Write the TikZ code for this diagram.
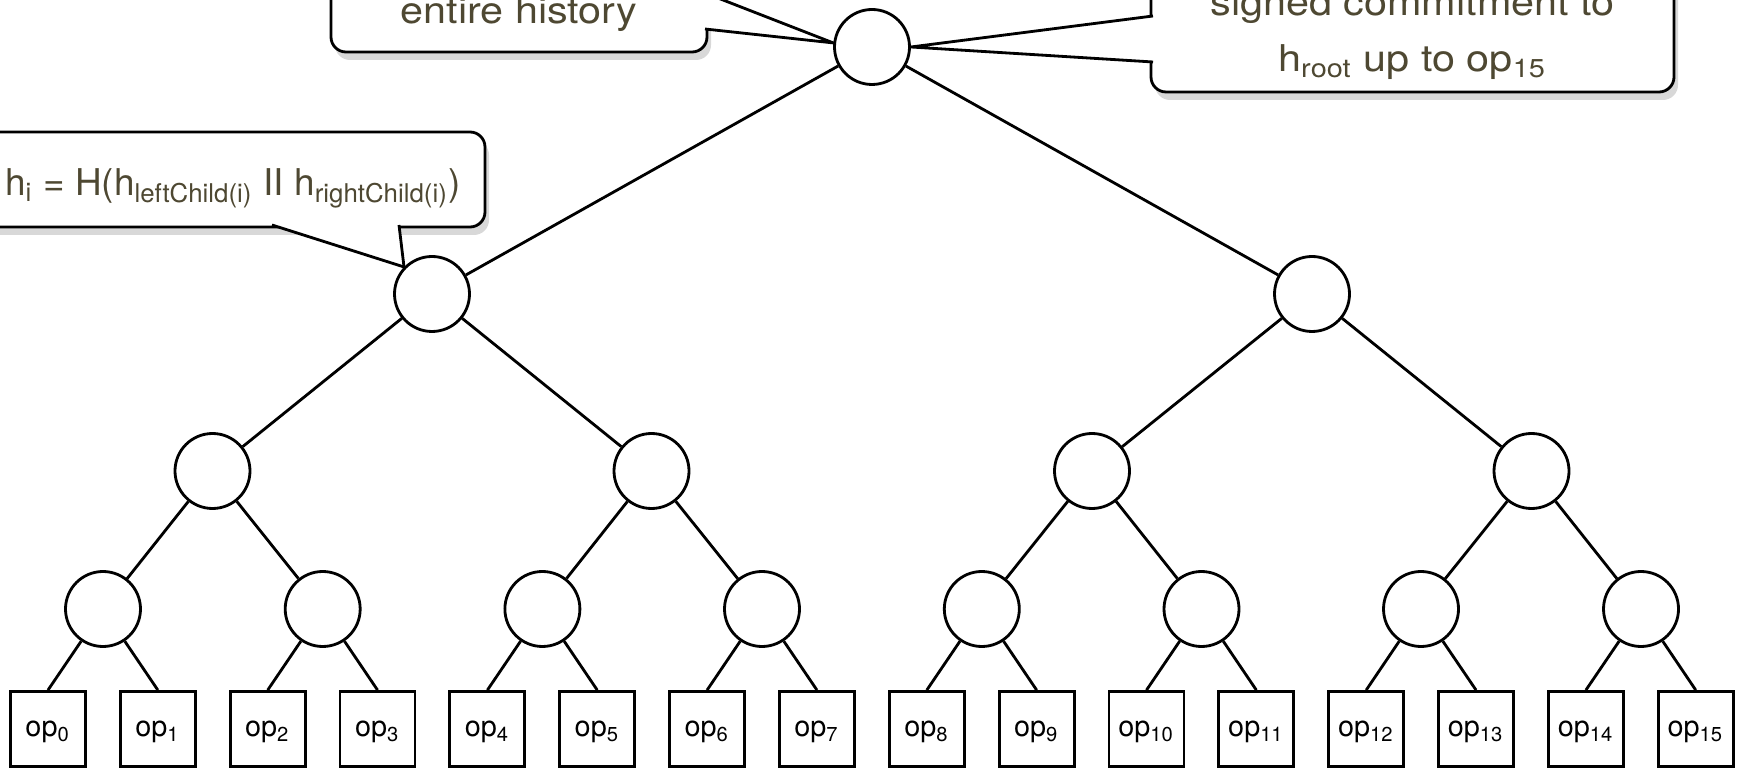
\documentclass[tikz,border=0pt]{standalone}
\usepackage{fontspec}
\setmainfont{TeX Gyre Heros}[FakeStretch=1.12]
\newfontfamily\plainfont{TeX Gyre Heros}
\usetikzlibrary{positioning}
\usetikzlibrary{shadows}
\definecolor{notetext}{RGB}{78,72,50}
\begin{document}
\begin{tikzpicture}[x=0.1mm,y=-0.1mm,line width=0.8pt,node distance=10.985mm,
  every node/.style={inner sep=0pt},
  hash/.style={draw,circle,fill=white,minimum size=7.5mm},
  op/.style={draw,rectangle,fill=white,minimum width=7.5mm,minimum height=7.5mm,text height=2mm,text depth=0.4mm,
    font=\plainfont\fontsize{8.2}{10}\selectfont},
  note/.style={draw,rounded corners=1.5mm,fill=white,text=notetext,font=\fontsize{10.5}{15.9}\selectfont,
    drop shadow={opacity=0.3,shadow xshift=0.4mm,shadow yshift=-0.8mm}},
  tail/.style={draw,fill=white,line join=round}]
\path[use as bounding box,fill=white] (0,0) rectangle (1742,768);
% hash nodes, root first
  \node[hash] (1) at (872,47) {};
  \node[hash] (2) at (432,294) {};
  \node[hash] (3) at (1312,294) {};
  \node[hash] (4) at (212.5,471) {};
  \node[hash] (5) at (651.5,471) {};
  \node[hash] (6) at (1092,471) {};
  \node[hash] (7) at (1531.5,471) {};
  \node[hash] (8) at (103,609) {};
  \node[hash] (9) at (322.7,609) {};
  \node[hash] (10) at (542.4,609) {};
  \node[hash] (11) at (762,609) {};
  \node[hash] (12) at (981.8,609) {};
  \node[hash] (13) at (1201.5,609) {};
  \node[hash] (14) at (1421,609) {};
  \node[hash] (15) at (1641,609) {};
% operations
  \node[op] (op0) at (48,729) {op\textsubscript{0}};
  \node[op,right of=op0] (op1) {op\textsubscript{1}};
  \node[op,right of=op1] (op2) {op\textsubscript{2}};
  \node[op,right of=op2] (op3) {op\textsubscript{3}};
  \node[op,right of=op3] (op4) {op\textsubscript{4}};
  \node[op,right of=op4] (op5) {op\textsubscript{5}};
  \node[op,right of=op5] (op6) {op\textsubscript{6}};
  \node[op,right of=op6] (op7) {op\textsubscript{7}};
  \node[op,right of=op7] (op8) {op\textsubscript{8}};
  \node[op,right of=op8] (op9) {op\textsubscript{9}};
  \node[op,right of=op9] (op10) {op\textsubscript{10}};
  \node[op,right of=op10] (op11) {op\textsubscript{11}};
  \node[op,right of=op11] (op12) {op\textsubscript{12}};
  \node[op,right of=op12] (op13) {op\textsubscript{13}};
  \node[op,right of=op13] (op14) {op\textsubscript{14}};
  \node[op,right of=op14] (op15) {op\textsubscript{15}};
  \draw (1)--(2); \draw (1)--(3);
  \draw (2)--(4); \draw (2)--(5); \draw (3)--(6); \draw (3)--(7);
  \draw (4)--(8); \draw (4)--(9); \draw (5)--(10); \draw (5)--(11);
  \draw (6)--(12); \draw (6)--(13); \draw (7)--(14); \draw (7)--(15);
  \draw (8)--(op0.north); \draw (8)--(op1.north);
  \draw (9)--(op2.north); \draw (9)--(op3.north);
  \draw (10)--(op4.north); \draw (10)--(op5.north);
  \draw (11)--(op6.north); \draw (11)--(op7.north);
  \draw (12)--(op8.north); \draw (12)--(op9.north);
  \draw (13)--(op10.north); \draw (13)--(op11.north);
  \draw (14)--(op12.north); \draw (14)--(op13.north);
  \draw (15)--(op14.north); \draw (15)--(op15.north);
% callouts
  \node[note,anchor=base,text height=14.8mm,text depth=2.8mm,minimum width=37.6mm] (c1) at (519,24) {entire history};
  \coordinate (c1a) at (705,-7);
  \coordinate (c1b) at (705,29);
  \draw[tail] (c1a)--(1.174)--(c1b);
  \node[note,align=center,minimum width=52.3mm,minimum height=11.5mm] (c2) at (1412.5,34.5) {signed commitment to\\h\textsubscript{root} up to op\textsubscript{15}};
  \coordinate (c2a) at (1153,16);
  \coordinate (c2b) at (1153,62);
  \draw[tail] (c2a)--(1.east)--(c2b);
  \node[note,anchor=base,text height=6.4mm,text depth=3.1mm,minimum width=50.4mm,font=\plainfont\fontsize{10.5}{15.9}\selectfont] (c3) at (233,196) {h\textsubscript{i} = H(h\textsubscript{leftChild(i)} II h\textsubscript{rightChild(i)})};
  \coordinate (c3a) at (272,225);
  \coordinate (c3b) at (399,225);
  \draw[tail] (c3a)--(2.136)--(c3b);
\end{tikzpicture}
\end{document}
